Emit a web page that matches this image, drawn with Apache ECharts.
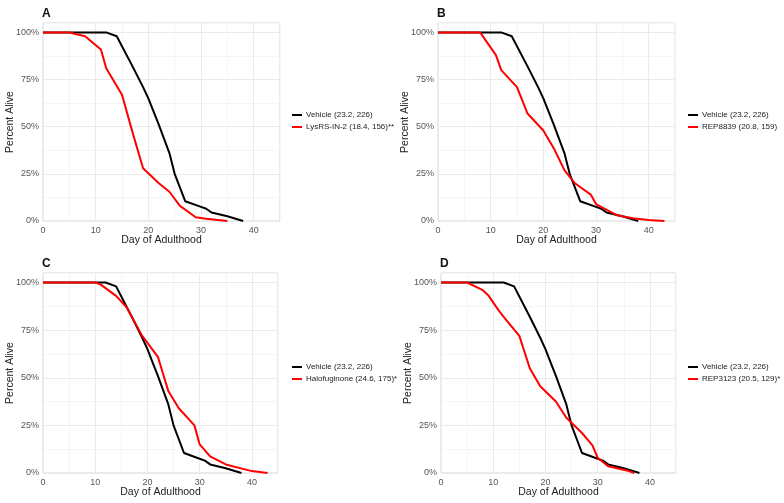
<!DOCTYPE html>
<html>
<head>
<meta charset="utf-8">
<script src="https://cdn.jsdelivr.net/npm/echarts@6/dist/echarts.min.js"></script>
<style>
html, body { margin: 0; padding: 0; background: #fff; }
#main { width: 784px; height: 503px; }
</style>
</head>
<body>
<div id="main"></div>
<script>
// survival curves, [day, percent alive]
var vehicle = [[0, 100], [12, 100], [14, 98], [17, 82], [19, 71], [20, 65], [21, 58], [22, 51], [24, 36], [25, 25], [27, 10.5], [30, 7.5], [31, 6.5], [32, 4.5], [35, 2.5], [38, 0]];
var lysrs = [[0, 100], [5, 100], [8, 98], [11, 91], [12, 81], [15, 67], [17, 47], [19, 28], [22, 20], [24, 15.5], [26, 8], [29, 2], [31, 1.2], [35, 0]];
var rep8839 = [[0, 100], [8, 100], [11, 88], [12, 80], [15, 71], [17, 57], [20, 48], [22, 38.5], [24, 27], [26, 20], [29, 14], [30, 9], [34, 3], [37, 1.5], [40, 0.5], [43, 0]];
var halofuginone = [[0, 100], [10, 100], [11, 99], [14, 93], [16, 87], [19, 72], [22, 61], [24, 43], [26, 34], [29, 25], [30, 15], [32, 8.7], [35, 4.5], [40, 1], [43, 0]];
var rep3123 = [[0, 100], [5, 100], [8, 96], [9, 93.5], [11, 85.5], [12, 82], [15, 72], [17, 55], [19, 45.5], [22, 37.5], [24, 29], [27, 21], [29, 14.5], [30, 8], [32, 3.5], [36, 1], [37, 0]];

var panelLetters = ['A', 'B', 'C', 'D'];
var vehicleName = 'Vehicle (23.2, 226)';
var treatNames = ['LysRS-IN-2 (18.4, 156)**', 'REP8839 (20.8, 159)', 'Halofuginone (24.6, 175)*', 'REP3123 (20.5, 129)*'];
var treatData = [lysrs, rep8839, halofuginone, rep3123];
var xTicks = [0, 10, 20, 30, 40];
var yTicks = [0, 25, 50, 75, 100];

var grids = [
	{ left: 43, top: 23, width: 237, height: 198 },
	{ left: 438, top: 23, width: 237, height: 198 },
	{ left: 43, top: 273, width: 235, height: 200 },
	{ left: 441, top: 273, width: 235, height: 200 }
];
var legendPos = [
	{ left: 292, top: 111 },
	{ left: 688, top: 111 },
	{ left: 292, top: 363 },
	{ left: 688, top: 363 }
];

var myChart = echarts.init(document.getElementById('main'));
var option = {
	animation: false,
	backgroundColor: '#fff',
	title: [],
	grid: [],
	xAxis: [],
	yAxis: [],
	legend: [],
	series: []
};

for (var i = 0; i < 4; i++) {
	var g = grids[i];
	option.grid.push({
		left: g.left, top: g.top, width: g.width, height: g.height,
		show: true, borderColor: '#d6d6d6', borderWidth: 1, containLabel: false
	});
	option.title.push({
		text: panelLetters[i],
		left: g.left - 1,
		top: g.top - 15,
		padding: 0,
		textStyle: { fontFamily: 'Liberation Sans', fontWeight: 'bold', fontSize: 12, color: '#111' }
	});
	option.xAxis.push({
		type: 'value', gridIndex: i, min: 0, max: 45, interval: 5,
		name: 'Day of Adulthood', nameLocation: 'middle', nameGap: 14, nameMoveOverlap: false,
		nameTextStyle: { fontFamily: 'Liberation Sans', fontSize: 10.5, color: '#222' },
		axisLine: { show: false }, axisTick: { show: false },
		axisLabel: {
			fontFamily: 'Liberation Sans', fontSize: 9, color: '#555', margin: 5,
			showMaxLabel: false,
			formatter: function(v) { return xTicks.indexOf(v) >= 0 ? String(v) : ''; }
		},
		splitLine: { show: true, lineStyle: { color: ['#ebebeb', '#f5f5f5'], width: 1 } }
	});
	option.yAxis.push({
		type: 'value', gridIndex: i, min: 0, max: 105, interval: 12.5,
		name: 'Percent Alive', nameLocation: 'middle', nameGap: 27, nameMoveOverlap: false,
		nameTextStyle: { fontFamily: 'Liberation Sans', fontSize: 10.5, color: '#222' },
		axisLine: { show: false }, axisTick: { show: false },
		axisLabel: {
			fontFamily: 'Liberation Sans', fontSize: 9, color: '#555', margin: 4,
			showMaxLabel: false,
			formatter: function(v) { return yTicks.indexOf(v) >= 0 ? v + '%' : ''; }
		},
		splitLine: { show: true, lineStyle: { color: ['#ebebeb', '#f5f5f5'], width: 1 } }
	});
	option.legend.push({
		orient: 'vertical', left: legendPos[i].left, top: legendPos[i].top,
		padding: 0,
		icon: 'rect', itemWidth: 10, itemHeight: 2, itemGap: 4,
		textStyle: { fontFamily: 'Liberation Sans', fontSize: 8, color: '#222', padding: [0, 0, 0, -1] },
		data: [vehicleName, treatNames[i]]
	});
	option.series.push({
		name: vehicleName, type: 'line', xAxisIndex: i, yAxisIndex: i,
		data: vehicle, showSymbol: false, symbol: 'none',
		lineStyle: { color: '#000', width: 2 }, itemStyle: { color: '#000' }
	});
	option.series.push({
		name: treatNames[i], type: 'line', xAxisIndex: i, yAxisIndex: i,
		data: treatData[i], showSymbol: false, symbol: 'none',
		lineStyle: { color: '#ff0000', width: 2 }, itemStyle: { color: '#ff0000' }
	});
}

myChart.setOption(option);
</script>
</body>
</html>
